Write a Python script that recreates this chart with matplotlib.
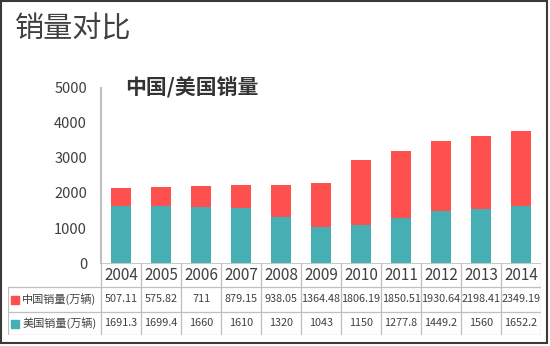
import matplotlib
matplotlib.use('Agg')
import matplotlib.pyplot as plt
from matplotlib.patches import Rectangle

plt.rcParams['font.family'] = ['Noto Sans CJK SC', 'DejaVu Sans']

# data
years = ['2004', '2005', '2006', '2007', '2008', '2009', '2010', '2011', '2012', '2013', '2014']
# bar heights as drawn in the picture
china_bar = [503, 540, 606, 654, 910, 1252, 1840, 1897, 1982, 2068, 2125]
usa_bar = [1630, 1630, 1593, 1573, 1317, 1038, 1098, 1297, 1496, 1553, 1638]
# values printed in the data table
china_labels = ['507.11', '575.82', '711', '879.15', '938.05', '1364.48', '1806.19',
                '1850.51', '1930.64', '2198.41', '2349.19']
usa_labels = ['1691.3', '1699.4', '1660', '1610', '1320', '1043', '1150',
              '1277.8', '1449.2', '1560', '1652.2']
series_names = ['中国销量(万辆)', '美国销量(万辆)']

red = '#FF5050'
teal = '#45AFB4'
grid_col = '#BFBFBF'
text_col = '#404040'

W, H = 550, 346
fig = plt.figure(figsize=(W / 100, H / 100), dpi=100)


def fx(px):
    return px / W


def fy(py):
    return 1 - py / H


# main chart axes (pixel layout)
ax = fig.add_axes([fx(101), fy(263.3), fx(541) - fx(101), fy(87.5) - fy(263.3)])
x = list(range(len(years)))
ax.bar(x, usa_bar, width=0.48, color=teal)
ax.bar(x, china_bar, width=0.48, bottom=usa_bar, color=red)
ax.set_xlim(-0.5, len(years) - 0.5)
ax.set_ylim(0, 5000)
ax.set_yticks([0, 1000, 2000, 3000, 4000, 5000])
ax.set_xticks([])
ax.tick_params(axis='y', length=0, pad=10, labelsize=10.5, labelcolor=text_col)
for s in ['top', 'right', 'bottom']:
    ax.spines[s].set_visible(False)
ax.spines['left'].set_color(grid_col)
ax.spines['left'].set_linewidth(1.5)

fig.text(fx(125), fy(88), '中国/美国销量', fontsize=15, fontweight='bold',
         color='#333333', va='center', ha='left')
fig.text(fx(15), fy(29), '销量对比', fontsize=21, color=text_col,
         va='center', ha='left')

# data table under the chart, x in bar units, y in pixels
left_px = 8
x_left = (left_px - 101) / 40 - 0.5
tb = fig.add_axes([fx(left_px), fy(335), fx(541) - fx(left_px), fy(263) - fy(335)])
tb.set_xlim(x_left, len(years) - 0.5)
tb.set_ylim(335, 263)
tb.axis('off')

rows = [263, 287, 312, 335]
lw = 0.9
tb.plot([-0.5, len(years) - 0.5], [rows[0], rows[0]], color=grid_col, lw=1.2)
for r in rows[1:]:
    tb.plot([x_left, len(years) - 0.5], [r, r], color=grid_col, lw=lw)
for k in range(len(years) + 1):
    tb.plot([k - 0.5, k - 0.5], [rows[0], rows[-1]], color=grid_col, lw=lw)
tb.plot([x_left, x_left], [rows[1], rows[-1]], color=grid_col, lw=lw)

for i in x:
    tb.text(i, (rows[0] + rows[1]) / 2, years[i], ha='center', va='center',
            fontsize=11, color=text_col)
    tb.text(i, (rows[1] + rows[2]) / 2, china_labels[i], ha='center', va='center',
            fontsize=7.8, color=text_col)
    tb.text(i, (rows[2] + rows[3]) / 2, usa_labels[i], ha='center', va='center',
            fontsize=7.8, color=text_col)

for j, (name, col) in enumerate(zip(series_names, [red, teal])):
    yc = (rows[j + 1] + rows[j + 2]) / 2
    tb.scatter([x_left + 0.18], [yc], marker='s', s=30, color=col)
    tb.text(x_left + 0.36, yc, name, ha='left', va='center', fontsize=8, color=text_col)

# outer frame
fig.patches.append(Rectangle((fx(1), fy(343)), fx(546), fy(1) - fy(343), fill=False,
                             edgecolor='#3A3A3A', lw=1.5, transform=fig.transFigure))

fig.savefig('out.png', dpi=100, facecolor='white')
